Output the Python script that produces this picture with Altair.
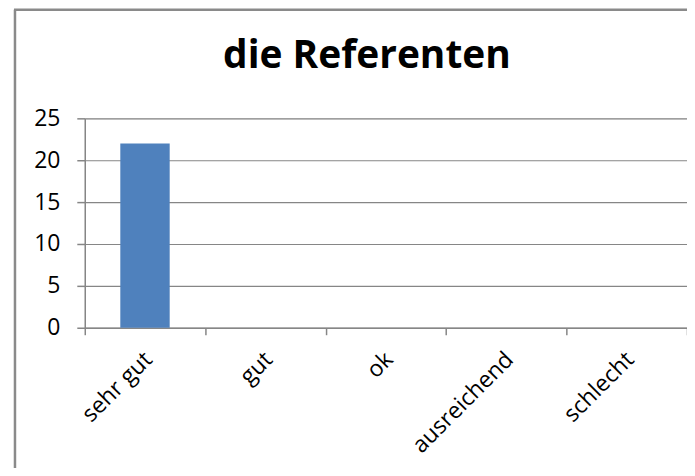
import altair as alt
import pandas as pd

categories = ["sehr gut", "gut", "ok", "ausreichend", "schlecht"]
values = [22, 0, 0, 0, 0]
y_ticks = [0, 5, 10, 15, 20, 25]
title_text = "die Referenten"

df = pd.DataFrame({"kategorie": categories, "wert": values})

FONT = "Open Sans"
GRAY = "#868686"

bars = alt.Chart(df).mark_bar(color="#4F81BD", width=alt.RelativeBandSize(0.41)).encode(
    x=alt.X(
        "kategorie:N",
        sort=categories,
        title=None,
        scale=alt.Scale(paddingInner=0, paddingOuter=0),
        axis=alt.Axis(
            labelAngle=-45,
            labelAlign="right",
            labelBaseline="middle",
            labelFont=FONT,
            labelFontSize=23,
            labelColor="#000000",
            labelPadding=21,
            labelOffset=3,
            domainColor=GRAY,
            domainWidth=1.5,
            tickColor=GRAY,
            tickWidth=1.5,
            tickSize=7,
            tickBand="extent",
            grid=False,
        ),
    ),
    y=alt.Y(
        "wert:Q",
        title=None,
        scale=alt.Scale(domain=[0, 25], nice=False),
        axis=alt.Axis(
            values=y_ticks,
            labelFont=FONT,
            labelFontSize=23,
            labelColor="#000000",
            labelPadding=17,
            domainColor=GRAY,
            domainWidth=1.5,
            tickColor=GRAY,
            tickWidth=1.5,
            tickSize=8,
            gridColor=GRAY,
            gridWidth=1.2,
        ),
    ),
)

title_mark = alt.Chart(df.head(1)).mark_text(
    text=title_text,
    font=FONT,
    fontSize=39,
    fontWeight="bold",
    color="#000000",
    align="center",
    baseline="alphabetic",
).encode(x=alt.value(283), y=alt.value(-50))

border_v = alt.Chart(df.head(1)).mark_rule(color="#8a8a8a", strokeWidth=2.5).encode(
    x=alt.value(-70), y=alt.value(-109), y2=alt.value(400)
)
border_h = alt.Chart(df.head(1)).mark_rule(color="#8a8a8a", strokeWidth=2.5).encode(
    x=alt.value(-71), x2=alt.value(700), y=alt.value(-109)
)

chart = (
    alt.layer(bars, title_mark, border_v, border_h)
    .properties(
        width=604,
        height=210,
        padding={"left": 77, "top": 110, "right": 0, "bottom": 140},
        autosize=alt.AutoSizeParams(type="none"),
    )
    .configure_view(stroke=None)
    .configure(background="#ffffff")
)

chart.save("out.html", embed_options={"renderer": "svg", "actions": False})
